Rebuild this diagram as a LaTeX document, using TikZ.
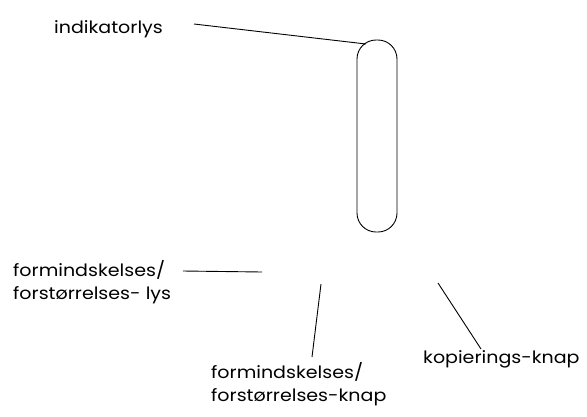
\documentclass[tikz,border=0pt]{standalone}
\usepackage{fontspec}
\setmainfont{Poppins}[FakeStretch=1.12]
\begin{document}
\begin{tikzpicture}[x=1pt,y=-1pt,
  lbl/.style={inner sep=0pt, font=\fontsize{17}{23.5}\selectfont, align=left},
  leader/.style={draw=black, line width=0.9pt},
  pillbox/.style={draw=black, line width=0.9pt, minimum width=40pt, minimum height=192pt, rounded corners=19pt, inner sep=0pt}]
\useasboundingbox (0,0) rectangle (587,416);
% pill indicator
\node[pillbox] (pill) at (377,136) {};
% labels
\node[lbl, anchor=base west] (ind) at (54,33) {indikatorlys};
\node[lbl, anchor=base west] (flys) at (13,299.5) {formindskelses/\\forstørrelses- lys};
\node[lbl, anchor=base west] (fknap) at (211,401.5) {formindskelses/\\forstørrelses-knap};
\node[lbl, anchor=base west] (kop) at (423,363) {kopierings-knap};
% leader end points
\coordinate (indA) at (194,24);
\coordinate (indB) at (366,44);
\coordinate (flysA) at (183,271);
\coordinate (flysB) at (262,272);
\coordinate (fknapA) at (312,357);
\coordinate (fknapB) at (321,284);
\coordinate (kopA) at (481,349);
\coordinate (kopB) at (438,283);
\draw[leader] (indA) -- (indB);
\draw[leader] (flysA) -- (flysB);
\draw[leader] (fknapA) -- (fknapB);
\draw[leader] (kopA) -- (kopB);
\end{tikzpicture}
\end{document}
